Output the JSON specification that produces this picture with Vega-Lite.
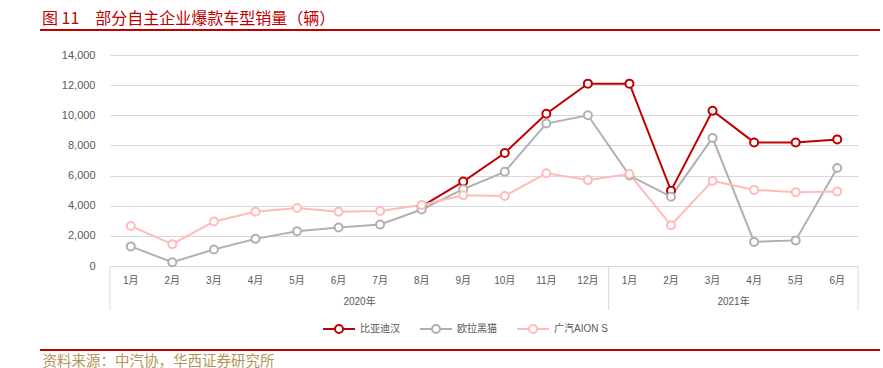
{
  "$schema": "https://vega.github.io/schema/vega-lite/v6.json",
  "width": 748,
  "height": 211,
  "autosize": {"type": "none"},
  "padding": {"left": 110, "top": 55, "right": 25, "bottom": 102},
  "background": "white",
  "config": {"font": "Liberation Sans, Noto Sans CJK SC", "view": {"stroke": null}},
  "title": {
    "text": "图 11　部分自主企业爆款车型销量（辆）",
    "anchor": "start",
    "frame": "group",
    "dx": -68,
    "dy": 17,
    "offset": 6,
    "color": "#C00000",
    "fontSize": 16,
    "font": "Noto Sans CJK SC",
    "fontWeight": "normal",
    "baseline": "alphabetic"
  },
  "datasets": {
    "sales": [
      {"月份": "2020-08", "车型": "比亚迪汉", "销量": 3950},
      {"月份": "2020-09", "车型": "比亚迪汉", "销量": 5600},
      {"月份": "2020-10", "车型": "比亚迪汉", "销量": 7500},
      {"月份": "2020-11", "车型": "比亚迪汉", "销量": 10100},
      {"月份": "2020-12", "车型": "比亚迪汉", "销量": 12100},
      {"月份": "2021-01", "车型": "比亚迪汉", "销量": 12100},
      {"月份": "2021-02", "车型": "比亚迪汉", "销量": 5000},
      {"月份": "2021-03", "车型": "比亚迪汉", "销量": 10300},
      {"月份": "2021-04", "车型": "比亚迪汉", "销量": 8200},
      {"月份": "2021-05", "车型": "比亚迪汉", "销量": 8200},
      {"月份": "2021-06", "车型": "比亚迪汉", "销量": 8400},
      {"月份": "2020-01", "车型": "欧拉黑猫", "销量": 1300},
      {"月份": "2020-02", "车型": "欧拉黑猫", "销量": 250},
      {"月份": "2020-03", "车型": "欧拉黑猫", "销量": 1100},
      {"月份": "2020-04", "车型": "欧拉黑猫", "销量": 1800},
      {"月份": "2020-05", "车型": "欧拉黑猫", "销量": 2300},
      {"月份": "2020-06", "车型": "欧拉黑猫", "销量": 2550},
      {"月份": "2020-07", "车型": "欧拉黑猫", "销量": 2750},
      {"月份": "2020-08", "车型": "欧拉黑猫", "销量": 3750},
      {"月份": "2020-09", "车型": "欧拉黑猫", "销量": 5100},
      {"月份": "2020-10", "车型": "欧拉黑猫", "销量": 6250},
      {"月份": "2020-11", "车型": "欧拉黑猫", "销量": 9450},
      {"月份": "2020-12", "车型": "欧拉黑猫", "销量": 10000},
      {"月份": "2021-01", "车型": "欧拉黑猫", "销量": 6000},
      {"月份": "2021-02", "车型": "欧拉黑猫", "销量": 4600},
      {"月份": "2021-03", "车型": "欧拉黑猫", "销量": 8500},
      {"月份": "2021-04", "车型": "欧拉黑猫", "销量": 1600},
      {"月份": "2021-05", "车型": "欧拉黑猫", "销量": 1700},
      {"月份": "2021-06", "车型": "欧拉黑猫", "销量": 6500},
      {"月份": "2020-01", "车型": "广汽AION S", "销量": 2650},
      {"月份": "2020-02", "车型": "广汽AION S", "销量": 1450},
      {"月份": "2020-03", "车型": "广汽AION S", "销量": 2950},
      {"月份": "2020-04", "车型": "广汽AION S", "销量": 3600},
      {"月份": "2020-05", "车型": "广汽AION S", "销量": 3850},
      {"月份": "2020-06", "车型": "广汽AION S", "销量": 3600},
      {"月份": "2020-07", "车型": "广汽AION S", "销量": 3650},
      {"月份": "2020-08", "车型": "广汽AION S", "销量": 4050},
      {"月份": "2020-09", "车型": "广汽AION S", "销量": 4700},
      {"月份": "2020-10", "车型": "广汽AION S", "销量": 4650},
      {"月份": "2020-11", "车型": "广汽AION S", "销量": 6150},
      {"月份": "2020-12", "车型": "广汽AION S", "销量": 5700},
      {"月份": "2021-01", "车型": "广汽AION S", "销量": 6100},
      {"月份": "2021-02", "车型": "广汽AION S", "销量": 2700},
      {"月份": "2021-03", "车型": "广汽AION S", "销量": 5650},
      {"月份": "2021-04", "车型": "广汽AION S", "销量": 5050},
      {"月份": "2021-05", "车型": "广汽AION S", "销量": 4900},
      {"月份": "2021-06", "车型": "广汽AION S", "销量": 4950}
    ],
    "years": [
      {"月份": "2020-06", "年份": "2020年"},
      {"月份": "2021-03", "年份": "2021年"}
    ],
    "splits": [{"月份": "2020-01"}, {"月份": "2021-01"}],
    "ends": [{"月份": "2021-06"}]
  },
  "encoding": {
    "x": {
      "field": "月份",
      "type": "ordinal",
      "scale": {
        "type": "band",
        "paddingInner": 0,
        "paddingOuter": 0,
        "domain": ["2020-01","2020-02","2020-03","2020-04","2020-05","2020-06","2020-07","2020-08","2020-09","2020-10","2020-11","2020-12","2021-01","2021-02","2021-03","2021-04","2021-05","2021-06"]
      },
      "axis": {
        "labelExpr": "toNumber(slice(datum.value, 5)) + '月'",
        "labelAngle": 0,
        "ticks": false,
        "domainColor": "#D9D9D9",
        "labelColor": "#595959",
        "labelFontSize": 10,
        "labelPadding": 9,
        "title": "资料来源：中汽协，华西证券研究所",
        "titleX": -68,
        "titleY": 99,
        "titleAlign": "left",
        "titleAnchor": "start",
        "titleBaseline": "alphabetic",
        "titleColor": "#B3955A",
        "titleFontSize": 14.5,
        "titleFontWeight": "normal",
        "titleFont": "Noto Sans CJK SC"
      }
    },
    "y": {
      "field": "销量",
      "type": "quantitative",
      "scale": {"domain": [0, 14000], "nice": false},
      "axis": {
        "values": [0, 2000, 4000, 6000, 8000, 10000, 12000, 14000],
        "tickCount": 8,
        "format": ",.0f",
        "labelOverlap": false,
        "domain": false,
        "ticks": false,
        "gridColor": "#D9D9D9",
        "labelColor": "#595959",
        "labelFontSize": 11,
        "labelPadding": 15,
        "title": null
      }
    }
  },
  "layer": [
    {
      "data": {"name": "sales"},
      "mark": {"type": "line", "strokeWidth": 2},
      "encoding": {
        "color": {
          "field": "车型",
          "type": "nominal",
          "scale": {"domain": ["比亚迪汉", "欧拉黑猫", "广汽AION S"], "range": ["#C00000", "#B0B0B0", "#FFBABA"]},
          "legend": {
            "title": null,
            "orient": "none",
            "legendX": 212,
            "legendY": 257,
            "direction": "horizontal",
            "padding": 0,
            "symbolType": "M-1,0L-0.25,0M0.25,0L1,0M-0.25,0A0.25,0.25 0 1,0 0.25,0A0.25,0.25 0 1,0 -0.25,0",
            "symbolSize": 1024,
            "symbolStrokeWidth": 2,
            "symbolFillColor": "white",
            "labelFontSize": 10,
            "labelColor": "#595959",
            "labelOffset": 4,
            "columnPadding": 16
          }
        }
      }
    },
    {
      "data": {"name": "sales"},
      "mark": {"type": "point", "filled": false, "fill": "white", "strokeWidth": 2, "size": 64, "opacity": 1},
      "encoding": {
        "color": {"field": "车型", "type": "nominal", "legend": null}
      }
    },
    {
      "data": {"name": "splits"},
      "mark": {"type": "rule", "color": "#D9D9D9", "strokeWidth": 1},
      "encoding": {
        "x": {"field": "月份", "type": "ordinal", "bandPosition": 0},
        "y": {"value": 211},
        "y2": {"value": 255}
      }
    },
    {
      "data": {"name": "ends"},
      "mark": {"type": "rule", "color": "#D9D9D9", "strokeWidth": 1},
      "encoding": {
        "x": {"field": "月份", "type": "ordinal", "bandPosition": 1},
        "y": {"value": 211},
        "y2": {"value": 255}
      }
    },
    {
      "data": {"name": "years"},
      "mark": {"type": "text", "dx": 21, "fontSize": 10, "color": "#595959"},
      "encoding": {
        "y": {"value": 247},
        "text": {"field": "年份"}
      }
    },
    {
      "data": {"values": [{}]},
      "mark": {"type": "rule", "color": "#C00000", "strokeWidth": 2},
      "encoding": {"x": {"value": -70}, "x2": {"value": 770}, "y": {"value": -25}}
    },
    {
      "data": {"values": [{}]},
      "mark": {"type": "rule", "color": "#C00000", "strokeWidth": 2},
      "encoding": {"x": {"value": -70}, "x2": {"value": 770}, "y": {"value": 295}}
    }
  ]
}
